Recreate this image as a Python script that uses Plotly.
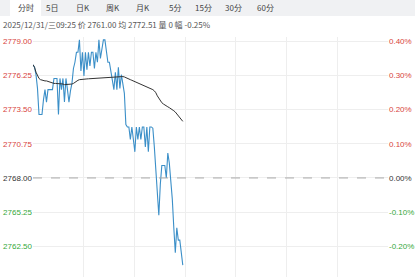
import plotly.graph_objects as go

# ---- data ----
tabs = ["分时", "5日", "日K", "周K", "月K", "5分", "15分", "30分", "60分"]
info_text = "2025/12/31/三09:25 价 2761.00 均 2772.51 量 0 幅 -0.25%"
prev_close = 2768.00
price_ticks = [2762.50, 2765.25, 2768.00, 2770.75, 2773.50, 2776.25, 2779.00]

price = [
    2777.1, 2776.9, 2776.3, 2775.2, 2773.1, 2773.1, 2773.1, 2774.3, 2775.1, 2774.1,
    2775.1, 2775.1, 2775.1, 2775.1, 2776.0, 2776.0, 2776.0, 2773.1, 2776.0, 2775.1,
    2776.0, 2774.1, 2776.0, 2775.1, 2774.1, 2775.0, 2775.6, 2776.8, 2777.3, 2778.1,
    2778.1, 2779.1, 2776.6, 2778.1, 2776.2, 2778.1, 2776.7, 2778.1, 2777.0, 2778.1,
    2778.1, 2776.8, 2778.1, 2777.3, 2779.1, 2777.6, 2778.6, 2779.1, 2779.1, 2777.9,
    2777.3, 2777.3, 2776.5, 2776.1, 2775.1, 2776.5, 2775.1, 2776.9, 2775.2, 2776.3,
    2775.3, 2774.8, 2772.3, 2772.1, 2772.1, 2771.1, 2772.1, 2771.1, 2770.1, 2772.1,
    2771.1, 2772.1, 2771.1, 2772.1, 2772.1, 2770.5, 2772.1, 2770.1, 2772.1, 2772.1,
    2772.0, 2770.5, 2768.5, 2766.5, 2765.0, 2767.5, 2769.0, 2769.0, 2769.0, 2768.0,
    2770.0, 2769.2, 2768.0, 2766.3, 2764.0, 2762.0, 2764.0, 2763.0, 2763.0, 2762.0,
    2761.0,
]
avg_price = [
    2777.1, 2776.9, 2776.5, 2776.2, 2776.0, 2775.9, 2775.85, 2775.8, 2775.8, 2775.8,
    2775.75, 2775.7, 2775.65, 2775.6, 2775.6, 2775.6, 2775.6, 2775.55, 2775.55, 2775.55,
    2775.55, 2775.5, 2775.5, 2775.5, 2775.5, 2775.5, 2775.55, 2775.6, 2775.7, 2775.8,
    2775.85, 2775.9, 2775.9, 2775.92, 2775.93, 2775.95, 2775.96, 2775.97, 2775.98, 2776.0,
    2776.0, 2776.02, 2776.03, 2776.04, 2776.05, 2776.06, 2776.07, 2776.08, 2776.09, 2776.1,
    2776.1, 2776.11, 2776.12, 2776.12, 2776.13, 2776.13, 2776.14, 2776.14, 2776.15, 2776.15,
    2776.15, 2776.12, 2776.08, 2776.02, 2775.96, 2775.9, 2775.85, 2775.8, 2775.72, 2775.65,
    2775.6, 2775.55, 2775.5, 2775.45, 2775.4, 2775.35, 2775.3, 2775.25, 2775.2, 2775.15,
    2775.1, 2775.0, 2774.85, 2774.6, 2774.4, 2774.2, 2774.05, 2773.95, 2773.85, 2773.8,
    2773.72, 2773.65, 2773.58, 2773.5, 2773.4, 2773.3, 2773.15, 2773.0, 2772.85, 2772.7,
    2772.55,
]
total_slots = 237
n_divisions = 7

# ---- styling ----
RED = "#d8443c"
GREEN = "#34a83a"
BLACK = "#333333"
BLUE = "#3b8fc8"
GRID = "#eeeeee"

def tick_color(v):
    if v > prev_close + 1e-9:
        return RED
    if v < prev_close - 1e-9:
        return GREEN
    return BLACK

left_text = [f'<span style="color:{tick_color(v)}">{v:.2f}</span>' for v in price_ticks]
right_text = [f'<span style="color:{tick_color(v)}">{(v / prev_close - 1) * 100:.2f}%</span>'
              for v in price_ticks]

x = list(range(len(price)))

fig = go.Figure()
fig.add_trace(go.Scatter(x=x, y=price, mode="lines",
                         line=dict(color=BLUE, width=1.1), hoverinfo="skip"))
fig.add_trace(go.Scatter(x=x, y=avg_price, mode="lines",
                         line=dict(color=BLACK, width=1), hoverinfo="skip"))
# invisible trace to activate right axis
fig.add_trace(go.Scatter(x=[None], y=[None], yaxis="y2", showlegend=False, hoverinfo="skip"))

yrange = [2760.04, 2779.33]
grid_x = [total_slots * k / n_divisions for k in range(1, n_divisions)]

L, T, PW, PH = 33, 37, 355, 240

def px(xp):
    return (xp - L) / PW

def py(yp):
    return (277 - yp) / PH

fig.update_layout(
    width=415, height=277,
    margin=dict(l=33, r=27, t=37, b=0),
    paper_bgcolor="white", plot_bgcolor="white",
    showlegend=False,
    font=dict(family="Liberation Sans, Arial, sans-serif", size=8, color=BLACK),
    xaxis=dict(range=[0, total_slots], tickvals=grid_x, showticklabels=False,
               showgrid=True, gridcolor=GRID, gridwidth=1, zeroline=False,
               showline=False, ticks=""),
    yaxis=dict(range=yrange, tickvals=price_ticks, ticktext=left_text,
               showgrid=True, gridcolor=GRID, gridwidth=1, zeroline=False,
               showline=False, ticks="", tickfont=dict(size=8)),
    yaxis2=dict(range=yrange, tickvals=price_ticks, ticktext=right_text,
                overlaying="y", side="right", showgrid=False, zeroline=False,
                showline=False, ticks="", tickfont=dict(size=8)),
    shapes=[
        dict(type="rect", xref="paper", yref="paper", x0=px(0), x1=px(415),
             y0=py(16), y1=py(0),
             fillcolor="#f0f1f3", line=dict(width=0), layer="above"),
        dict(type="rect", xref="paper", yref="paper", x0=px(10), x1=px(41),
             y0=py(16), y1=py(0),
             fillcolor="white", line=dict(width=0), layer="above"),
        dict(type="line", xref="paper", yref="y", x0=0, x1=1, y0=prev_close, y1=prev_close,
             line=dict(color="#aaaaaa", width=1, dash="dash")),
    ],
)

# tab bar
tab_centers = [26, 52, 83, 113, 143, 175, 203, 233, 265]
for t, cx in zip(tabs, tab_centers):
    fig.add_annotation(text=t, xref="paper", yref="paper",
                       x=px(cx), y=py(8),
                       xanchor="center", yanchor="middle", showarrow=False,
                       font=dict(family="Noto Sans CJK SC", size=8, color="#444"))
fig.add_annotation(text=info_text, xref="paper", yref="paper",
                   x=px(1), y=py(25),
                   xanchor="left", yanchor="middle", showarrow=False,
                   font=dict(family="Noto Sans CJK SC", size=8, color="#555"))

fig.write_html("out.html", config={"displayModeBar": False})
